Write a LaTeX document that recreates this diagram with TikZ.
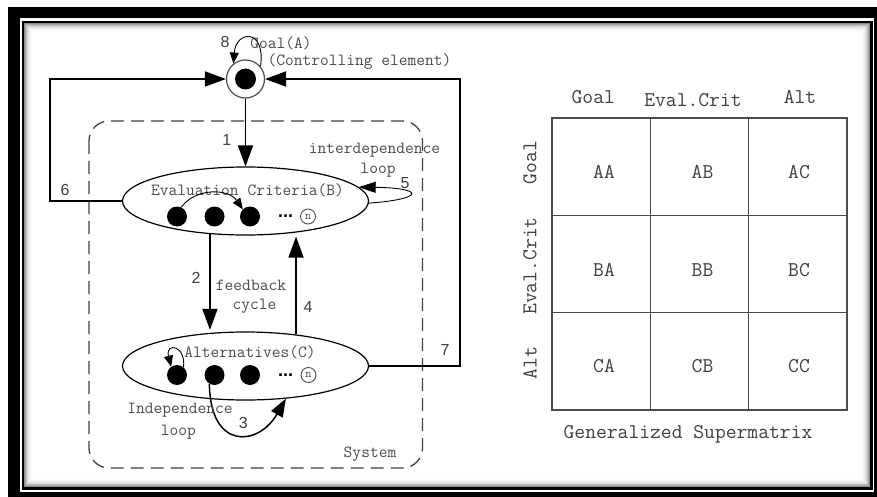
\documentclass[tikz,border=0pt]{standalone}
\usepackage{fontspec}
\newfontfamily\numf{Liberation Sans}
\usetikzlibrary{arrows.meta,shapes.geometric,calc}
\begin{document}
\begin{tikzpicture}[x=1pt,y=-1pt,
  lbl/.style={font=\ttfamily\fontsize{17}{19}\selectfont, text=black!70, inner sep=0},
  num/.style={font=\numf\fontsize{16}{18}\selectfont, text=black!75, inner sep=0},
  mtx/.style={font=\ttfamily\fontsize{21}{23}\selectfont, text=black!75, inner sep=0},
  main/.style={line width=1.8pt, -{Triangle[length=21pt,width=15pt]}},
  loopar/.style={line width=0.9pt, -{Triangle[length=11pt,width=9pt]}},
  loopfive/.style={line width=0.9pt, -{Triangle[length=17pt,width=11pt]}},
  arrthree/.style={line width=1.5pt, -{Triangle[length=18pt,width=13pt]}},
  elli/.style={ellipse, draw, line width=1.2pt, minimum width=246pt, minimum height=68pt, inner sep=0},
  dot/.style={circle, fill=black, minimum size=20pt, inner sep=0},
  ncirc/.style={circle, draw=black!70, line width=0.9pt, minimum size=15pt, inner sep=0,
                font=\ttfamily\fontsize{12}{12}\selectfont, text=black!70},
  ell/.style={font=\numf\bfseries\fontsize{18}{18}\selectfont, inner sep=0, text height=2.5pt, text depth=0pt},
  gridline/.style={draw=black!70, line width=1.4pt}
]
\useasboundingbox (0,0) rectangle (877,497);
% frame
\fill[black] (8,7) rectangle (885,505);
\fill[white] (20,18.3) rectangle (874,492);
\fill[black] (21.7,20.7) rectangle (872.7,489.5);
\fill[white] (24,23) rectangle (870,486.5);
\foreach \i/\c in {0/45,1/34,2/25,3/17,4/11,5/7,6/4,7/2}
  \draw[black!\c, line width=1pt] (24.5+\i,23.5+\i) rectangle (869.5-\i,486-\i);

% system box
\draw[black!75, line width=1.3pt, dash pattern=on 13pt off 7pt, rounded corners=20pt]
  (89,121) rectangle (422.5,468);

% goal
\node[circle, draw=black!70, line width=1.2pt, minimum size=38pt, inner sep=0] (goal) at (245.5,79) {};
\node[circle, fill=black, minimum size=21pt, inner sep=0] (goalin) at (goal.center) {};
\node[lbl] (tgoal) at (281,43) {Goal(A)};
\node[lbl] (tctrl) at (359.5,62) {(Controlling element)};
\node[num] (n8) at (225,42) {8};
\draw[loopar] (goal.40) .. controls (266,28) and (236,30) .. (goal.128);

% ellipses
\node[elli] (B) at (245.5,201) {};
\node[elli] (C) at (245.5,366) {};
\node[lbl] (tB) at (247.5,190) {Evaluation Criteria(B)};
\node[lbl] (tC) at (250,352) {Alternatives(C)};

% dots in B
\node[dot] (b1) at (177,216.5) {};
\node[dot] (b2) at (214.5,216.5) {};
\node[dot] (b3) at (250,216.5) {};
\node[ell] (bdots) at (285.5,216.5) {...};
\node[ncirc] (bn) at (308,216.5) {n};
\draw[loopar] (b1.65) .. controls (195,188) and (228,188) .. (b3.135);

% dots in C
\node[dot] (c1) at (177,375) {};
\node[dot] (c2) at (214.5,375) {};
\node[dot] (c3) at (250,375) {};
\node[ell] (cdots) at (285.5,375) {...};
\node[ncirc] (cn) at (308.5,375) {n};
\draw[loopar] (c1.50) .. controls (186,345) and (165,342) .. (c1.125);

% connectors
\coordinate (k6) at (50,79);
\coordinate (k7) at (460,79);
\draw[main] (B.west) -| (k6) -- (goal.west);
\draw[main] (C.east) -| (k7) -- (goal.east);
\draw[main] (goal.south) -- (B.north);
\draw[main, shorten >=3pt] (B.-137.9) -- (C.137.9);
\draw[main, shorten >=4pt] (C.32.5) -- (B.-32.5);
\draw[loopfive] (B.-1) .. controls (425,199) and (425,188) .. (B.7);
\draw[arrthree] (c2.240) .. controls (210,450) and (258,447) .. (C.-39);

% number labels
\node[num] (n1) at (226.7,140) {1};
\node[num] (n6) at (65,190) {6};
\node[num] (n5) at (405,183) {5};
\node[num] (n2) at (196,278) {2};
\node[num] (n4) at (308,307) {4};
\node[num] (n7) at (445,350) {7};
\node[num] (n3) at (243.3,423) {3};

% other labels
\node[lbl] (tint) at (374.5,150) {interdependence};
\node[lbl] (tloop5) at (378,170) {loop};
\node[lbl] (tfb) at (251,285) {feedback};
\node[lbl] (tcyc) at (254.5,306) {cycle};
\node[lbl] (tind) at (180,410) {Independence};
\node[lbl] (tloop3) at (178.3,431.7) {loop};
\node[lbl] (tsys) at (370,454.3) {System};

% supermatrix
\draw[gridline] (552,118) rectangle (847,410);
\draw[gridline] (650.3,118) -- (650.3,410);
\draw[gridline] (748.7,118) -- (748.7,410);
\draw[gridline] (552,215.3) -- (847,215.3);
\draw[gridline] (552,312.7) -- (847,312.7);

\node[mtx] (hg) at (593.3,97) {Goal};
\node[mtx] (he) at (693,100) {Eval.Crit};
\node[mtx] (ha) at (800,97) {Alt};
\node[mtx, rotate=90] (rg) at (530,162.5) {Goal};
\node[mtx, rotate=90] (re) at (530,266) {Eval.Crit};
\node[mtx, rotate=90] (ra) at (530,363) {Alt};

\node[mtx] (aa) at (604,171.7) {AA};
\node[mtx] (ab) at (702.5,171.7) {AB};
\node[mtx] (ac) at (799,171.7) {AC};
\node[mtx] (ba) at (604,270) {BA};
\node[mtx] (bb) at (702.5,270) {BB};
\node[mtx] (bc) at (799,270) {BC};
\node[mtx] (ca) at (604,366) {CA};
\node[mtx] (cb) at (702.5,366) {CB};
\node[mtx] (cc) at (799,366) {CC};
\node[mtx] (tgs) at (688,434) {Generalized Supermatrix};
\end{tikzpicture}
\end{document}
